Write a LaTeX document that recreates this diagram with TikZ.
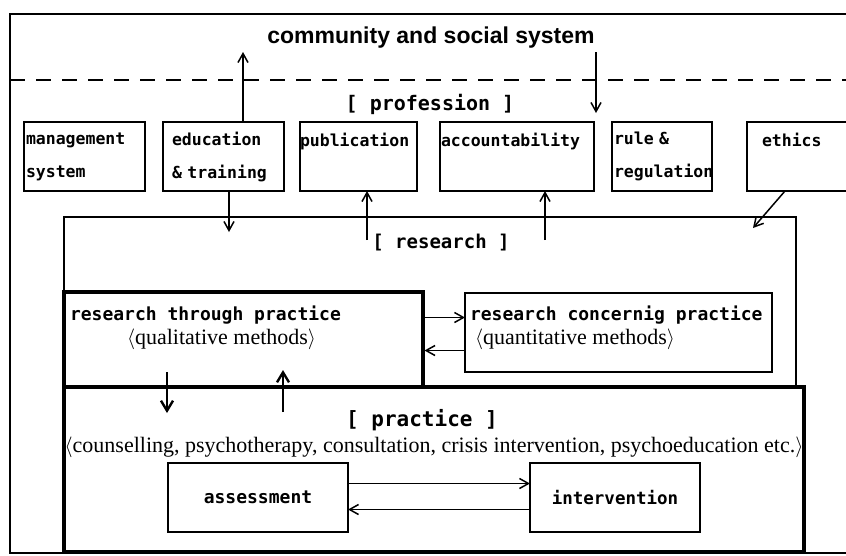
\documentclass[tikz,border=0pt]{standalone}
\usepackage{fontspec}
\setmainfont{Liberation Serif}
\setsansfont{Liberation Sans}
\setmonofont{DejaVu Sans Mono}
\usetikzlibrary{arrows.meta,calc}

\begin{document}
\begin{tikzpicture}[x=1pt,y=-1pt,
        line width=1.5pt,
        every node/.style={inner sep=0pt,outer sep=0pt},
        arr/.style={-{Straight Barb[length=9pt,width=10pt]}},
        bigarr/.style={line width=2.4pt,-{Straight Barb[length=10pt,width=12pt]}},
        gtext/.style={font=\ttfamily\bfseries\fontsize{#1}{33}\selectfont},
        gtext/.default=18,
        mtext/.style={font=\rmfamily\fontsize{22}{24}\selectfont},
        twoline/.style={anchor=north west,align=left,font=\ttfamily\bfseries\fontsize{18}{24}\selectfont},
        pbox/.style={draw,anchor=north west,align=left,minimum height=69pt,gtext=16.5},
        area/.style={draw,anchor=north west}
        ]
        \useasboundingbox (0,0) rectangle (846,555);

        % the frame and the border of the community
        \draw (880,14) -- (10,14) -- (10,553) -- (880,553);
        \draw[dash pattern=on 15pt off 11pt] (10,80) -- (880,80);
        \node[font=\sffamily\bfseries\fontsize{23}{26}\selectfont] (soc) at (431,38) {community and social system};
        \node[gtext=20] (prof) at (430,104) {[ profession ]};

        % the boxes of the profession
        \node[pbox,text width=117pt,inner xsep=2pt] (mgmt) at (24,122) {management\\system};
        \node[pbox,text width=103pt,inner xsep=9pt] (edu) at (163,122) {education\\\& training};
        \node[pbox,text width=117pt,inner xsep=0pt] (pub) at (300,122) {publication\\~};
        \node[pbox,text width=152pt,inner xsep=1pt] (acc) at (440,122) {accountability\\~};
        \node[pbox,text width=96pt,inner xsep=2pt] (rule) at (612,122) {rule \&\\regulation};
        \node[pbox,text width=100pt,inner xsep=15pt] (ethics) at (747,122) {ethics\\~};

        % the ties with the community
        \coordinate (up) at (243,52);
        \draw[arr] (edu.north -| up) -- (up);
        \coordinate (dn0) at (596,52);
        \coordinate (dn1) at (596,113);
        \draw[arr] (dn0) -- (dn1);

        % the research
        \node[area,line width=2.6pt,minimum width=732pt,minimum height=170pt] (res) at (64,217) {};
        \node[gtext=19] (reslbl) at (441,243) {[ research ]};

        \coordinate (r1) at (367,240);
        \draw[arr] (r1) -- (r1 |- pub.south);
        \coordinate (r2) at (545,240);
        \draw[arr] (r2) -- (r2 |- acc.south);
        \coordinate (r3) at (229,232);
        \draw[arr] (edu.south -| r3) -- (r3);
        \coordinate (r4) at (753,228);
        \draw[arr] ($(ethics.south west)+(38,0)$) -- (r4);

        % the two kinds of research
        \node[area,line width=3.6pt,minimum width=359pt,minimum height=95pt] (rtp) at (64,292) {};
        \node[twoline] (rtplbl) at (70,306) {research through practice\\
            \hspace*{57pt}{\rmfamily\mdseries\fontsize{22}{24}\selectfont\ensuremath{\langle}qualitative methods\ensuremath{\rangle}}};

        \node[area,minimum width=307pt,minimum height=79pt] (con) at (465,293) {};
        \node[twoline] (conlbl) at (470,306) {research concernig practice\\
            \hspace*{5pt}{\rmfamily\mdseries\fontsize{22}{24}\selectfont\ensuremath{\langle}quantitative methods\ensuremath{\rangle}}};

        \draw[arr] ([yshift=22pt]rtp.east) -- ([yshift=22pt]rtp.east -| con.west);
        \draw[arr,shorten >=1.5pt] ([yshift=-11pt]rtp.east -| con.west) -- ([yshift=-11pt]rtp.east);

        % the practice
        \node[area,line width=4.6pt,minimum width=740pt,minimum height=165pt] (prac) at (64,387) {};
        \node[gtext=21] (praclbl) at (422,420) {[ practice ]};
        \node[mtext] (pracdesc) at (434,447) {\ensuremath{\langle}counselling, psychotherapy, consultation, crisis intervention, psychoeducation etc.\ensuremath{\rangle}};

        \coordinate (q0) at (167,372);
        \coordinate (q1) at (167,413);
        \draw[bigarr] (q0) -- (q1);
        \coordinate (q2) at (283,412);
        \coordinate (q3) at (283,370);
        \draw[bigarr] (q2) -- (q3);

        \node[area,gtext,minimum width=180pt,minimum height=69pt] (ass) at (168,463) {assessment};
        \node[area,gtext=17.5,minimum width=170pt,minimum height=69pt] (int) at (530,463) {intervention};
        \draw[arr] ([yshift=14pt]ass.east) -- ([yshift=14pt]ass.east -| int.west);
        \draw[arr] ([yshift=-12pt]ass.east -| int.west) -- ([yshift=-12pt]ass.east);
\end{tikzpicture}
\end{document}
